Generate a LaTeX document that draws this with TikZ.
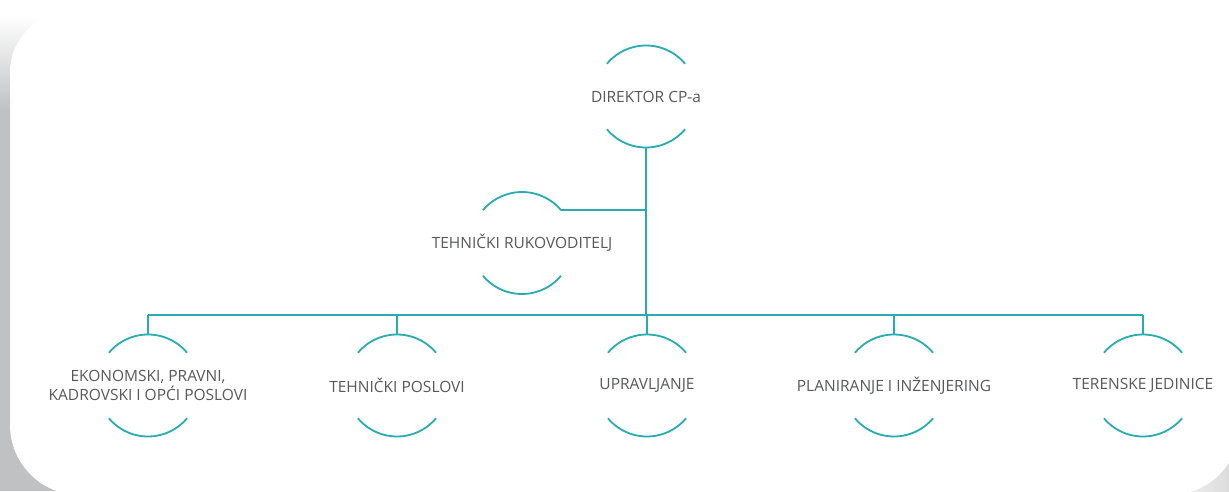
\documentclass[tikz,border=0pt]{standalone}
\usepackage{fontspec}
\setmainfont{Open Sans}
\definecolor{teal}{RGB}{40,172,176}
\definecolor{ink}{RGB}{88,89,91}
\definecolor{shadowgray}{RGB}{192,193,195}
\tikzset{
  x=1pt, y=1pt,
  unit/.style={inner sep=0pt, text=ink, font=\fontsize{15.5}{19}\selectfont, align=center},
  link/.style={draw=teal, line width=1.8pt},
  ring/.style={draw=teal, line width=1.8pt},
}
% two teal arcs (top and bottom) around a unit's centre
\newcommand{\unitarcs}[1]{%
  \draw[ring] ([shift={(40:51pt)}]#1.center) arc[start angle=40, end angle=140, radius=51pt];
  \draw[ring] ([shift={(220:51pt)}]#1.center) arc[start angle=220, end angle=320, radius=51pt];
}
\begin{document}
\begin{tikzpicture}
  \useasboundingbox (0,0) rectangle (1229,491);
  \begin{scope}
    \clip (0,0) rectangle (1229,491);
    % page background and card shadow
    \fill[white] (0,0) rectangle (1229,491);
    \fill[shadowgray] (0,0) rectangle (90,381);
    \shade[top color=white, bottom color=shadowgray] (0,381) rectangle (90,475);
    \shade[left color=white, right color=black!14] (1150,-4) rectangle (1229,70);
    % the white card
    \fill[white] (1300,479) -- (70,479) arc[start angle=90, end angle=180, radius=60]
      -- (10,66) arc[start angle=180, end angle=270, radius=70]
      -- (1170,-4) arc[start angle=270, end angle=360, radius=70]
      -- (1240,560) -- (1300,560) -- cycle;
  \end{scope}

  % units
  \node[unit] (dir) at (646,394.5) {DIREKTOR CP-a};
  \node[unit] (tr)  at (522,248) {TEHNIČKI RUKOVODITELJ};
  \node[unit] (eko) at (148,105.5) {EKONOMSKI, PRAVNI,\\KADROVSKI I OPĆI POSLOVI};
  \node[unit] (tp)  at (397,105.5) {TEHNIČKI POSLOVI};
  \node[unit] (upr) at (647,105.5) {UPRAVLJANJE};
  \node[unit] (pli) at (894,105.5) {PLANIRANJE I INŽENJERING};
  \node[unit] (ter) at (1143,105.5) {TERENSKE JEDINICE};

  \foreach \n in {dir,tr,eko,tp,upr,pli,ter}{\unitarcs{\n}}

  % connectors
  \coordinate (bus) at (646,176);
  \coordinate (trend) at ([shift={(40:51pt)}]tr.center);
  \draw[link] ([yshift=-51pt]dir.center) -- (bus);
  \draw[link] (trend) -- (trend -| dir.center);
  \draw[link] (bus -| eko.center) -- (bus -| ter.center);
  \foreach \n in {eko,tp,upr,pli,ter}{
    \draw[link] (bus -| \n.center) -- ([yshift=51pt]\n.center);
  }
\end{tikzpicture}
\end{document}
